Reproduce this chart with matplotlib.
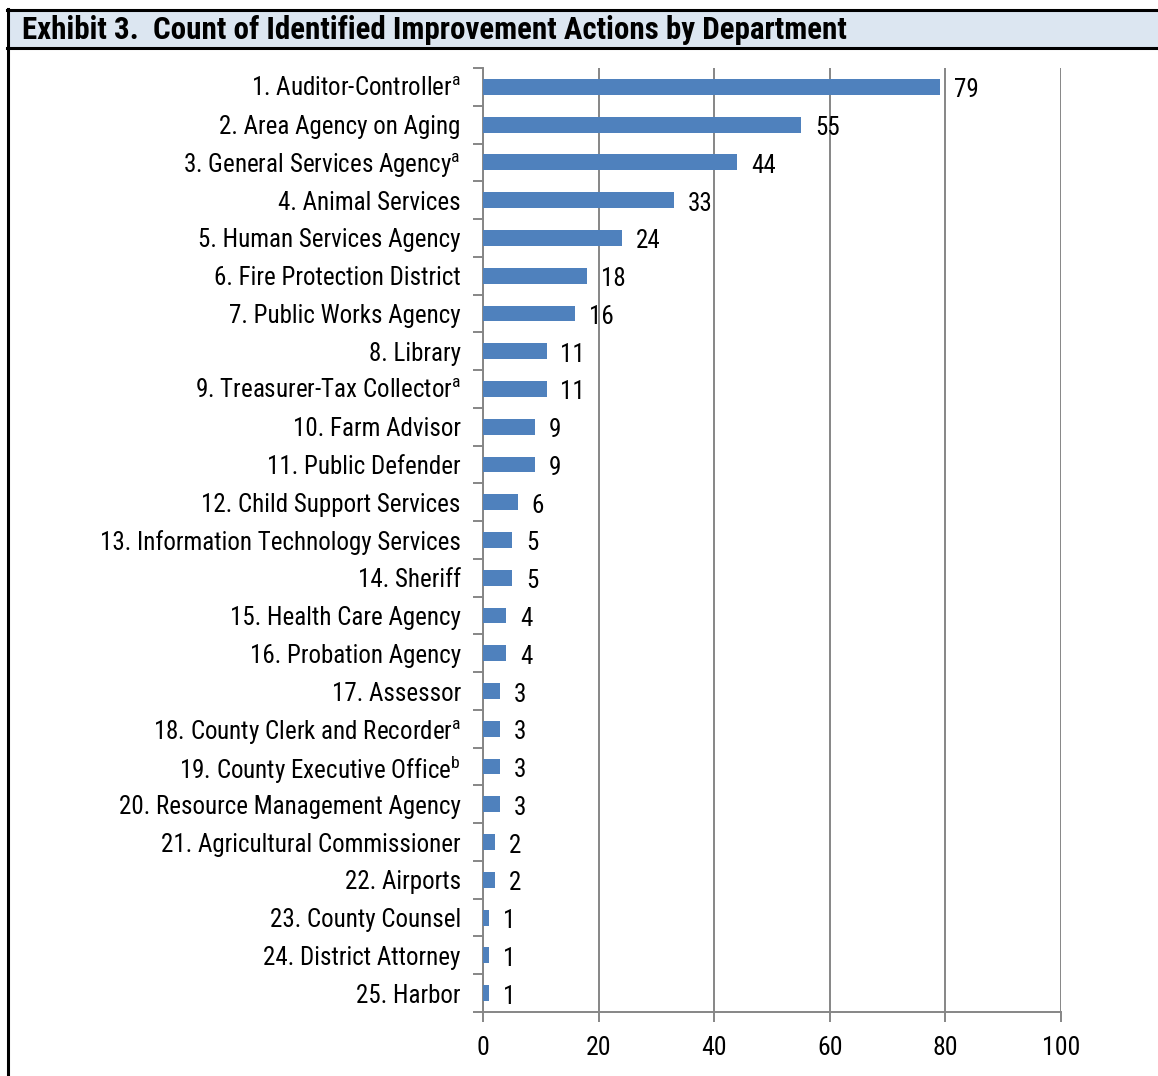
import numpy as np
import matplotlib
matplotlib.use("Agg")
import matplotlib.pyplot as plt
from matplotlib.patches import Rectangle
from matplotlib.lines import Line2D

departments = [
    "1. Auditor-Controller", "2. Area Agency on Aging", "3. General Services Agency",
    "4. Animal Services", "5. Human Services Agency", "6. Fire Protection District",
    "7. Public Works Agency", "8. Library", "9. Treasurer-Tax Collector",
    "10. Farm Advisor", "11. Public Defender", "12. Child Support Services",
    "13. Information Technology Services", "14. Sheriff", "15. Health Care Agency",
    "16. Probation Agency", "17. Assessor", "18. County Clerk and Recorder",
    "19. County Executive Office", "20. Resource Management Agency",
    "21. Agricultural Commissioner", "22. Airports", "23. County Counsel",
    "24. District Attorney", "25. Harbor",
]
footnotes = ["a", "", "a", "", "", "", "", "", "a", "", "", "", "", "", "",
             "", "", "a", "b", "", "", "", "", "", ""]
counts = [79, 55, 44, 33, 24, 18, 16, 11, 11, 9, 9, 6, 5, 5, 4, 4, 3, 3, 3, 3, 2, 2, 1, 1, 1]
xticks = [0, 20, 40, 60, 80, 100]
title = "Exhibit 3.  Count of Identified Improvement Actions by Department"

FONT = ["Roboto Condensed", "Liberation Sans", "DejaVu Sans"]
plt.rcParams["font.family"] = FONT
plt.rcParams["mathtext.fontset"] = "custom"
plt.rcParams["mathtext.rm"] = "Roboto Condensed"
plt.rcParams["mathtext.it"] = "Roboto Condensed"
plt.rcParams["mathtext.bf"] = "Roboto Condensed:bold"

BLUE = "#4F81BD"
GRID = "#868686"
W, H = 1158, 1076

fig = plt.figure(figsize=(W / 100, H / 100), dpi=100)

# title band and frame
fig.add_artist(Rectangle((8 / W, 1 - 48 / H), 1 - 8 / W, 38 / H, transform=fig.transFigure,
                         facecolor="#DCE6F1", edgecolor="none"))
for y in (10, 48):
    fig.add_artist(Line2D([7 / W, 1], [1 - y / H, 1 - y / H], transform=fig.transFigure,
                          color="black", lw=2.2))
fig.add_artist(Line2D([8 / W, 8 / W], [1 - 9 / H, 0], transform=fig.transFigure,
                      color="black", lw=2.2))
fig.text(22 / W, 1 - 39 / H, title, fontsize=22.3, fontweight="bold", va="baseline", ha="left")

ax = fig.add_axes([483 / W, 1 - 1012 / H, 578 / W, 944 / H])
pos = np.arange(len(departments))
ax.barh(pos, counts, height=0.42, color=BLUE, zorder=3)
for p, c in zip(pos, counts):
    ax.annotate(str(c), (c, p), xytext=(10, -2.5), textcoords="offset points",
                va="center", ha="left", fontsize=18)

labels = [f"{d}$^{{{f}}}$" if f else d for d, f in zip(departments, footnotes)]
ax.set_ylim(len(departments) - 0.5, -0.5)
ax.set_yticks(np.arange(-0.5, len(departments), 1))
ax.set_yticklabels([])
ax.set_yticks(pos, minor=True)
ax.set_yticklabels(labels, minor=True, fontsize=18)
ax.tick_params(axis="y", which="major", length=7, color=GRID, width=1.4, direction="out")
ax.tick_params(axis="y", which="minor", length=0, pad=16)

ax.set_xlim(0, 100)
ax.set_xticks(xticks)
ax.set_xticklabels([str(t) for t in xticks], fontsize=18.5)
ax.tick_params(axis="x", length=7, color=GRID, width=1.4, pad=10)
ax.xaxis.grid(True, color=GRID, lw=1.4, zorder=0)
ax.set_axisbelow(True)
for side in ("top", "right"):
    ax.spines[side].set_visible(False)
for side in ("left", "bottom"):
    ax.spines[side].set_color(GRID)
    ax.spines[side].set_linewidth(1.4)

fig.savefig("out.png", dpi=100)
